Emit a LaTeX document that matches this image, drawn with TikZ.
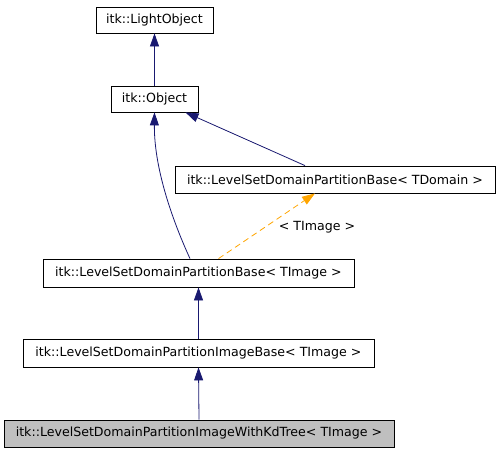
\documentclass[tikz,border=0pt]{standalone}
\usepackage{fontspec}
\setmainfont{DejaVu Sans}
\usetikzlibrary{arrows.meta}
\definecolor{dxnavy}{RGB}{25,25,112}
\definecolor{dxorange}{RGB}{255,165,0}
\definecolor{dxgrey}{RGB}{191,191,191}

\begin{document}
\begin{tikzpicture}[
  x=1pt, y=-1pt,
  font=\fontsize{12.6}{15}\selectfont,
  cls/.style={draw=black, line width=0.8pt, fill=white, inner sep=0pt,
              minimum height=26pt},
  inherit/.style={draw=dxnavy, line width=0.8pt,
                  -{Triangle[length=13pt,width=9pt]}},
  templ/.style={draw=dxorange, line width=0.8pt, dash pattern=on 6pt off 4pt,
                -{Triangle[length=13pt,width=9pt]}},
]
\useasboundingbox (0,0) rectangle (501,453);

% ==================== classes ====================
\node[cls, minimum width=117pt] (light) at (154.5,20) {itk::LightObject};
\node[cls, minimum width=87pt] (obj) at (154.5,99) {itk::Object};
\node[cls, minimum width=320pt, minimum height=27pt] (dom) at (335,179.5)
  {itk::LevelSetDomainPartitionBase< TDomain >};
\node[cls, minimum width=311pt, minimum height=28pt] (base) at (198.5,273)
  {itk::LevelSetDomainPartitionBase< TImage >};
\node[cls, minimum width=351pt, minimum height=28pt] (imgbase) at (198.5,353)
  {itk::LevelSetDomainPartitionImageBase< TImage >};
\node[cls, minimum width=390pt, minimum height=27pt, fill=dxgrey] (kdtree) at (199,433.5)
  {itk::LevelSetDomainPartitionImageWithKdTree< TImage >};

% ==================== inheritance ====================
\draw[inherit] (obj.north) -- (light.south);
\draw[inherit] ([xshift=-30pt]dom.north) -- ([xshift=31pt]obj.south);
\draw[inherit] ([xshift=-8.5pt]base.north) .. controls (170,215) and (154,165) .. (obj.south);
\draw[inherit] (imgbase.north) -- (base.south);
\draw[inherit] (kdtree.north) -- (imgbase.south);

% ==================== template instance ====================
\draw[templ] ([xshift=20pt]base.north) -- ([xshift=-20pt]dom.south);
\node (targ) at (317,227) {< TImage >};

\end{tikzpicture}
\end{document}
